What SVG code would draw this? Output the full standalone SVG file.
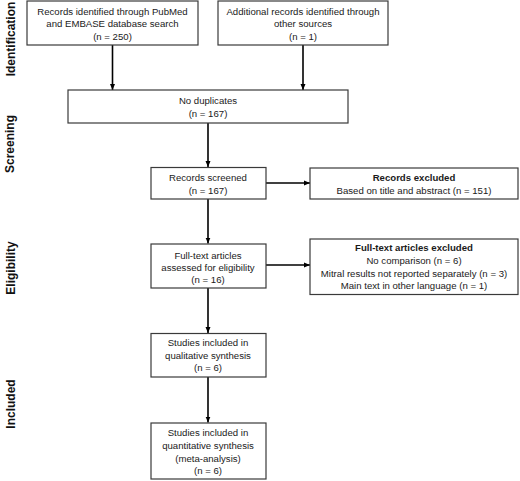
<svg xmlns="http://www.w3.org/2000/svg" width="520" height="481" viewBox="0 0 520 481">
<style>
.box{fill:#fff;stroke:#3a3a3a;stroke-width:1.2}
.t{font-family:"Liberation Sans",Arial,sans-serif;font-size:9.6px;fill:#1a1a1a;text-anchor:middle}
.b{font-weight:bold}
.side{font-family:"Liberation Sans",Arial,sans-serif;font-size:12px;font-weight:bold;fill:#111;text-anchor:middle}
.c{stroke:#000;stroke-width:1.6;fill:none;marker-end:url(#ah)}
</style>
<defs>
<marker id="ah" viewBox="0 0 6 6" refX="6" refY="3" markerWidth="6" markerHeight="6" markerUnits="userSpaceOnUse" orient="auto">
<path d="M0,0.5 L6,3 L0,5.5 Z" fill="#000"/>
</marker>
</defs>
<rect width="520" height="481" fill="#fff"/>
<g id="phases">
<text class="side" transform="translate(15,39) rotate(-90)">Identification</text>
<text class="side" transform="translate(14,144) rotate(-90)">Screening</text>
<text class="side" transform="translate(15,268) rotate(-90)">Eligibility</text>
<text class="side" transform="translate(15,404) rotate(-90)">Included</text>
</g>
<g id="connectors">
<path class="c" d="M112.5,45 V90"/>
<path class="c" d="M303,45 V90"/>
<path class="c" d="M208,123 V167"/>
<path class="c" d="M266,183 H310"/>
<path class="c" d="M208,199 V243.5"/>
<path class="c" d="M266,265 H310"/>
<path class="c" d="M208,288 V333"/>
<path class="c" d="M208,377 V422.5"/>
</g>
<g id="n1">
<rect class="box" x="27" y="1" width="171" height="44"/>
<text class="t" x="112.5" y="14.5">Records identified through PubMed</text>
<text class="t" x="112.5" y="27">and EMBASE database search</text>
<text class="t" x="112.5" y="39.5">(n = 250)</text>
</g>
<g id="n2">
<rect class="box" x="218" y="1" width="170" height="44"/>
<text class="t" x="303" y="14.5">Additional records identified through</text>
<text class="t" x="303" y="27">other sources</text>
<text class="t" x="303" y="39.5">(n = 1)</text>
</g>
<g id="n3">
<rect class="box" x="68" y="90" width="280" height="33"/>
<text class="t" x="208" y="104">No duplicates</text>
<text class="t" x="208" y="117">(n = 167)</text>
</g>
<g id="n4">
<rect class="box" x="151" y="167.5" width="115" height="31.5"/>
<text class="t" x="208" y="181">Records screened</text>
<text class="t" x="208" y="194">(n = 167)</text>
</g>
<g id="n5">
<rect class="box" x="310" y="168" width="208" height="31"/>
<text class="t b" x="414" y="181">Records excluded</text>
<text class="t" x="414" y="194">Based on title and abstract (n = 151)</text>
</g>
<g id="n6">
<rect class="box" x="151" y="244" width="115" height="44"/>
<text class="t" x="208" y="258.5">Full-text articles</text>
<text class="t" x="208" y="270.5">assessed for eligibility</text>
<text class="t" x="208" y="283">(n = 16)</text>
</g>
<g id="n7">
<rect class="box" x="310" y="239" width="208" height="55.5"/>
<text class="t b" x="414" y="251">Full-text articles excluded</text>
<text class="t" x="414" y="264">No comparison (n = 6)</text>
<text class="t" x="414" y="276.5">Mitral results not reported separately (n = 3)</text>
<text class="t" x="414" y="289">Main text in other language (n = 1)</text>
</g>
<g id="n8">
<rect class="box" x="151" y="333.5" width="115" height="43.5"/>
<text class="t" x="208" y="346">Studies included in</text>
<text class="t" x="208" y="358.5">qualitative synthesis</text>
<text class="t" x="208" y="371">(n = 6)</text>
</g>
<g id="n9">
<rect class="box" x="151" y="423" width="115" height="56"/>
<text class="t" x="208" y="436">Studies included in</text>
<text class="t" x="208" y="448.5">quantitative synthesis</text>
<text class="t" x="208" y="461.5">(meta-analysis)</text>
<text class="t" x="208" y="473.5">(n = 6)</text>
</g>
</svg>
